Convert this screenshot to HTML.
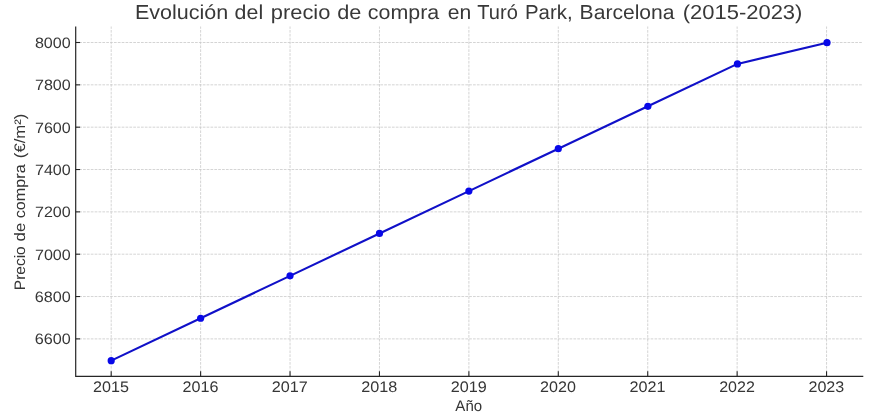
<!DOCTYPE html>
<html><head><meta charset="utf-8"><title>Evolución del precio de compra en Turó Park</title><style>
html,body{margin:0;padding:0;background:#fff;}
body{width:875px;height:418px;overflow:hidden;}
svg{display:block;font-family:"Liberation Sans",sans-serif;}
text{text-rendering:geometricPrecision;}
</style></head><body>
<svg width="875" height="418" viewBox="0 0 875 418">
<rect width="875" height="418" fill="#fff"/>
<g stroke="#c8c8c8" stroke-width="0.78" stroke-dasharray="2.695 1.166"><line x1="111.20" y1="376.30" x2="111.20" y2="26.50"/><line x1="200.62" y1="376.30" x2="200.62" y2="26.50"/><line x1="290.04" y1="376.30" x2="290.04" y2="26.50"/><line x1="379.46" y1="376.30" x2="379.46" y2="26.50"/><line x1="468.88" y1="376.30" x2="468.88" y2="26.50"/><line x1="558.30" y1="376.30" x2="558.30" y2="26.50"/><line x1="647.72" y1="376.30" x2="647.72" y2="26.50"/><line x1="737.14" y1="376.30" x2="737.14" y2="26.50"/><line x1="826.56" y1="376.30" x2="826.56" y2="26.50"/><line x1="75.35" y1="338.88" x2="862.80" y2="338.88"/><line x1="75.35" y1="296.54" x2="862.80" y2="296.54"/><line x1="75.35" y1="254.20" x2="862.80" y2="254.20"/><line x1="75.35" y1="211.86" x2="862.80" y2="211.86"/><line x1="75.35" y1="169.52" x2="862.80" y2="169.52"/><line x1="75.35" y1="127.18" x2="862.80" y2="127.18"/><line x1="75.35" y1="84.84" x2="862.80" y2="84.84"/><line x1="75.35" y1="42.50" x2="862.80" y2="42.50"/></g>
<g stroke="#262626" stroke-width="1.1"><line x1="111.20" y1="376.30" x2="111.20" y2="371.30"/><line x1="200.62" y1="376.30" x2="200.62" y2="371.30"/><line x1="290.04" y1="376.30" x2="290.04" y2="371.30"/><line x1="379.46" y1="376.30" x2="379.46" y2="371.30"/><line x1="468.88" y1="376.30" x2="468.88" y2="371.30"/><line x1="558.30" y1="376.30" x2="558.30" y2="371.30"/><line x1="647.72" y1="376.30" x2="647.72" y2="371.30"/><line x1="737.14" y1="376.30" x2="737.14" y2="371.30"/><line x1="826.56" y1="376.30" x2="826.56" y2="371.30"/><line x1="75.70" y1="338.88" x2="80.10" y2="338.88"/><line x1="75.70" y1="296.54" x2="80.10" y2="296.54"/><line x1="75.70" y1="254.20" x2="80.10" y2="254.20"/><line x1="75.70" y1="211.86" x2="80.10" y2="211.86"/><line x1="75.70" y1="169.52" x2="80.10" y2="169.52"/><line x1="75.70" y1="127.18" x2="80.10" y2="127.18"/><line x1="75.70" y1="84.84" x2="80.10" y2="84.84"/><line x1="75.70" y1="42.50" x2="80.10" y2="42.50"/></g>
<path d="M75.70 26.50 V376.30 H863.30" fill="none" stroke="#262626" stroke-width="1.2"/>
<polyline points="111.20,360.65 200.62,318.26 290.04,275.86 379.46,233.47 468.88,191.08 558.30,148.68 647.87,106.29 737.44,63.90 827.01,42.70" fill="none" stroke="#1010c8" stroke-width="2.1" stroke-linejoin="round"/>
<g fill="#0808e8"><circle cx="111.20" cy="360.65" r="3.6"/><circle cx="200.62" cy="318.26" r="3.6"/><circle cx="290.04" cy="275.86" r="3.6"/><circle cx="379.46" cy="233.47" r="3.6"/><circle cx="468.88" cy="191.08" r="3.6"/><circle cx="558.30" cy="148.68" r="3.6"/><circle cx="647.87" cy="106.29" r="3.6"/><circle cx="737.44" cy="63.90" r="3.6"/><circle cx="827.01" cy="42.70" r="3.6"/></g>
<g style="filter:grayscale(1)"><text x="134.92" y="19.20" font-size="20.2" fill="#383838" textLength="93.28" lengthAdjust="spacingAndGlyphs">Evolución</text>
<text x="234.63" y="19.20" font-size="20.2" fill="#383838" textLength="28.51" lengthAdjust="spacingAndGlyphs">del</text>
<text x="270.82" y="19.20" font-size="20.2" fill="#383838" textLength="59.59" lengthAdjust="spacingAndGlyphs">precio</text>
<text x="337.16" y="19.20" font-size="20.2" fill="#383838" textLength="24.15" lengthAdjust="spacingAndGlyphs">de</text>
<text x="367.85" y="19.20" font-size="20.2" fill="#383838" textLength="71.43" lengthAdjust="spacingAndGlyphs">compra</text>
<text x="447.84" y="19.20" font-size="20.2" fill="#383838" textLength="23.49" lengthAdjust="spacingAndGlyphs">en</text>
<text x="477.28" y="19.20" font-size="20.2" fill="#383838" textLength="40.54" lengthAdjust="spacingAndGlyphs">Turó</text>
<text x="525.00" y="19.20" font-size="20.2" fill="#383838" textLength="47.60" lengthAdjust="spacingAndGlyphs">Park,</text>
<text x="579.60" y="19.20" font-size="20.2" fill="#383838" textLength="94.92" lengthAdjust="spacingAndGlyphs">Barcelona</text>
<text x="682.68" y="19.20" font-size="20.2" fill="#383838" textLength="119.76" lengthAdjust="spacingAndGlyphs">(2015-2023)</text>
<text x="34.76" y="344.23" font-size="15.0" fill="#363636" textLength="35.99" lengthAdjust="spacingAndGlyphs">6600</text>
<text x="34.76" y="301.89" font-size="15.0" fill="#363636" textLength="35.99" lengthAdjust="spacingAndGlyphs">6800</text>
<text x="34.96" y="259.55" font-size="15.0" fill="#363636" textLength="35.79" lengthAdjust="spacingAndGlyphs">7000</text>
<text x="34.96" y="217.21" font-size="15.0" fill="#363636" textLength="35.79" lengthAdjust="spacingAndGlyphs">7200</text>
<text x="34.96" y="174.87" font-size="15.0" fill="#363636" textLength="35.79" lengthAdjust="spacingAndGlyphs">7400</text>
<text x="34.96" y="132.53" font-size="15.0" fill="#363636" textLength="35.79" lengthAdjust="spacingAndGlyphs">7600</text>
<text x="34.96" y="90.19" font-size="15.0" fill="#363636" textLength="35.79" lengthAdjust="spacingAndGlyphs">7800</text>
<text x="34.91" y="47.85" font-size="15.0" fill="#363636" textLength="35.79" lengthAdjust="spacingAndGlyphs">8000</text>
<text x="93.00" y="391.60" font-size="15.3" fill="#363636" textLength="35.88" lengthAdjust="spacingAndGlyphs">2015</text>
<text x="182.53" y="391.60" font-size="15.3" fill="#363636" textLength="35.89" lengthAdjust="spacingAndGlyphs">2016</text>
<text x="271.84" y="391.60" font-size="15.3" fill="#363636" textLength="36.02" lengthAdjust="spacingAndGlyphs">2017</text>
<text x="361.30" y="391.60" font-size="15.3" fill="#363636" textLength="36.07" lengthAdjust="spacingAndGlyphs">2018</text>
<text x="450.75" y="391.60" font-size="15.3" fill="#363636" textLength="35.98" lengthAdjust="spacingAndGlyphs">2019</text>
<text x="540.12" y="391.60" font-size="15.3" fill="#363636" textLength="35.82" lengthAdjust="spacingAndGlyphs">2020</text>
<text x="629.54" y="391.60" font-size="15.3" fill="#363636" textLength="35.99" lengthAdjust="spacingAndGlyphs">2021</text>
<text x="719.16" y="391.60" font-size="15.3" fill="#363636" textLength="35.69" lengthAdjust="spacingAndGlyphs">2022</text>
<text x="808.46" y="391.60" font-size="15.3" fill="#363636" textLength="35.81" lengthAdjust="spacingAndGlyphs">2023</text>
<text x="455.37" y="410.70" font-size="15.2" fill="#363636" textLength="26.74" lengthAdjust="spacingAndGlyphs">Año</text>
<text transform="translate(25.20 290.19) rotate(-90)" font-size="15.2" fill="#363636" textLength="43.88" lengthAdjust="spacingAndGlyphs">Precio</text>
<text transform="translate(25.20 241.38) rotate(-90)" font-size="15.2" fill="#363636" textLength="18.54" lengthAdjust="spacingAndGlyphs">de</text>
<text transform="translate(25.20 218.37) rotate(-90)" font-size="15.2" fill="#363636" textLength="54.03" lengthAdjust="spacingAndGlyphs">compra</text>
<text transform="translate(25.20 158.18) rotate(-90)" font-size="15.2" fill="#363636" textLength="44.64" lengthAdjust="spacingAndGlyphs">(€/m²)</text></g>
</svg>
</body></html>
